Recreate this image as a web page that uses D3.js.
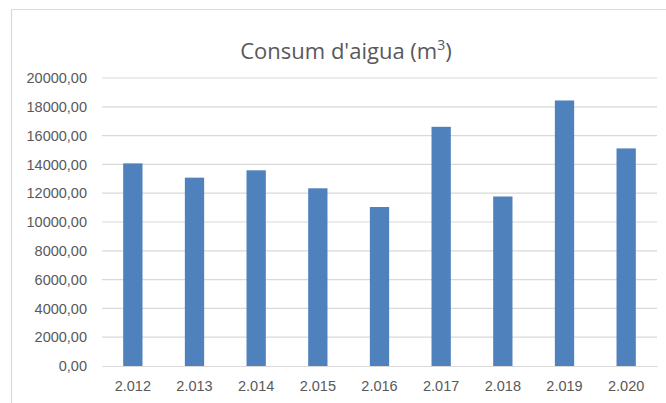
<!DOCTYPE html>
<html>
<head>
<meta charset="utf-8">
<script src="https://cdn.jsdelivr.net/npm/d3@7"></script>
<style>
  html, body { margin: 0; padding: 0; background: #fff; }
  svg { display: block; font-family: "Open Sans", Calibri, sans-serif; }
</style>
</head>
<body>
<svg id="chart" width="666" height="403"></svg>
<script>
const years = ["2.012", "2.013", "2.014", "2.015", "2.016", "2.017", "2.018", "2.019", "2.020"];
const consum = [14070, 13080, 13590, 12340, 11040, 16610, 11770, 18440, 15110];
const yTicks = [0, 2000, 4000, 6000, 8000, 10000, 12000, 14000, 16000, 18000, 20000];

const svg = d3.select("#chart");
const width = 666;
const height = 403;
const margin = { top: 78, right: 9, bottom: 37, left: 102 };
const innerWidth = width - margin.left - margin.right;
const innerHeight = height - margin.top - margin.bottom;

// chart frame: only the top and left edges show in the crop
svg.append("line")
  .attr("x1", 11.5).attr("x2", 11.5)
  .attr("y1", 9.5).attr("y2", height)
  .attr("stroke", "#d9d9d9").attr("stroke-width", 1.2);
svg.append("line")
  .attr("x1", 11.5).attr("x2", width)
  .attr("y1", 9.5).attr("y2", 9.5)
  .attr("stroke", "#d9d9d9").attr("stroke-width", 1.2);

const title = svg.append("text")
  .attr("x", 346)
  .attr("y", 59)
  .attr("text-anchor", "middle")
  .attr("fill", "#595959")
  .style("font-size", "22px");
title.append("tspan").text("Consum d'aigua (m");
title.append("tspan").attr("dy", -9).style("font-size", "14px").text("3");
title.append("tspan").attr("dy", 9).text(")");

const g = svg.append("g").attr("transform", `translate(${margin.left},${margin.top})`);

const x = d3.scaleBand()
  .domain(years)
  .range([0, innerWidth])
  .paddingInner(0.687)
  .paddingOuter(0.3435);

const y = d3.scaleLinear()
  .domain([0, 20000])
  .range([innerHeight, 0]);

const fmt = v => d3.format(".2f")(v).replace(".", ",");

// gridlines
g.append("g")
  .selectAll("line")
  .data(yTicks.slice(1))
  .join("line")
  .attr("x1", 0)
  .attr("x2", innerWidth)
  .attr("y1", d => y(d))
  .attr("y2", d => y(d))
  .attr("stroke", "#d9d9d9")
  .attr("stroke-width", 1.2);

g.append("g")
  .call(d3.axisLeft(y).tickValues(yTicks).tickSize(0).tickFormat(fmt).tickPadding(15))
  .call(s => s.select(".domain").remove())
  .call(s => s.selectAll("text").attr("fill", "#595959").style("font-size", "14.5px"));

g.selectAll("rect.bar")
  .data(consum)
  .join("rect")
  .attr("class", "bar")
  .attr("x", (d, i) => x(years[i]))
  .attr("y", d => y(d))
  .attr("width", x.bandwidth())
  .attr("height", d => innerHeight - y(d))
  .attr("fill", "#4f81bd");

g.append("g")
  .attr("transform", `translate(0,${innerHeight})`)
  .call(d3.axisBottom(x).tickSize(0).tickPadding(15))
  .call(s => s.select(".domain").attr("stroke", "#d9d9d9").attr("stroke-width", 1.2))
  .call(s => s.selectAll("text").attr("fill", "#595959").style("font-size", "14.5px"));
</script>
</body>
</html>
